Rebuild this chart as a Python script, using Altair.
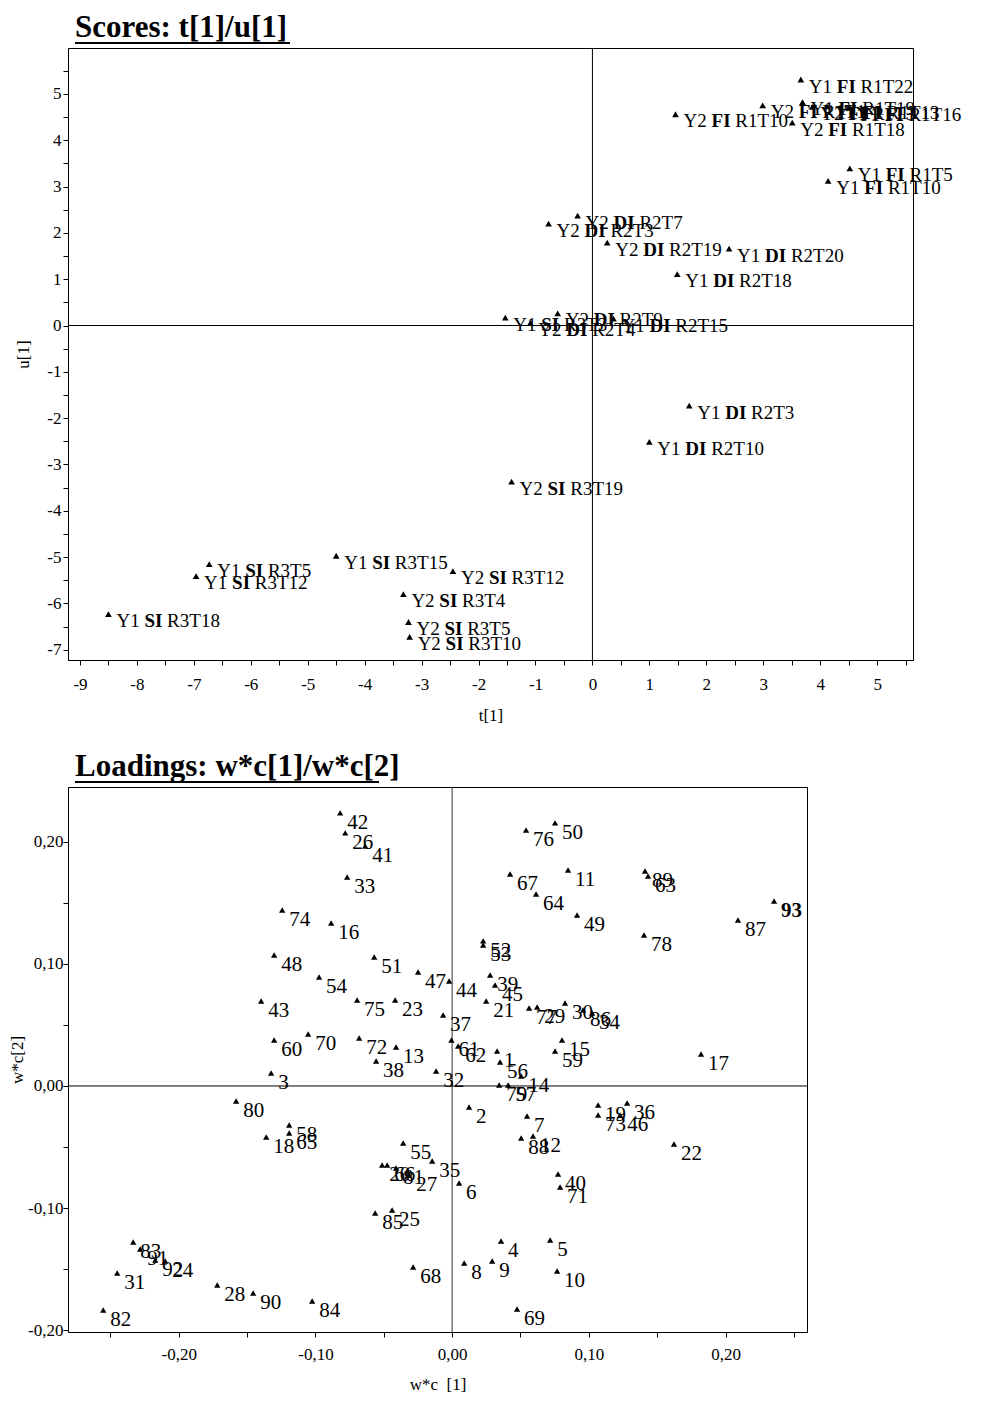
import altair as alt
import pandas as pd

FONT = "Liberation Serif"

# ---------------- Scores: t[1]/u[1] ----------------
score_title = ["Scores: t[1]/u[1]"]
score_year = ["Y1", "Y2", "Y1", "Y2", "Y1", "Y1", "Y2", "Y2", "Y1", "Y1",
              "Y2", "Y2", "Y2", "Y1", "Y1", "Y1", "Y2", "Y2", "Y1", "Y1",
              "Y1", "Y2", "Y1", "Y2", "Y1", "Y1", "Y2", "Y1", "Y2", "Y2"]
score_group = ["FI", "FI", "FI", "FI", "FI", "FI", "FI", "FI", "FI", "FI",
               "DI", "DI", "DI", "DI", "DI", "SI", "DI", "DI", "DI", "DI",
               "DI", "SI", "SI", "SI", "SI", "SI", "SI", "SI", "SI", "SI"]
score_code = ["R1T22", "R1T1", "R1T19", "R1T3", "R1T13", "R1T16", "R1T10", "R1T18", "R1T5", "R1T10",
              "R2T7", "R2T3", "R2T19", "R2T20", "R2T18", "R3T3", "R2T9", "R2T4", "R2T15", "R2T3",
              "R2T10", "R3T19", "R3T15", "R3T12", "R3T5", "R3T12", "R3T4", "R3T18", "R3T5", "R3T10"]
score_t = [3.66, 2.99, 3.69, 3.86, 4.12, 4.50, 1.46, 3.51, 4.52, 4.14,
           -0.26, -0.77, 0.26, 2.40, 1.49, -1.53, -0.61, -1.09, 0.37, 1.70,
           1.00, -1.42, -4.50, -2.45, -6.73, -6.96, -3.32, -8.50, -3.23, -3.21]
score_u = [5.31, 4.75, 4.82, 4.72, 4.73, 4.70, 4.56, 4.38, 3.39, 3.12,
           2.37, 2.20, 1.79, 1.66, 1.11, 0.17, 0.26, 0.06, 0.15, -1.73,
           -2.51, -3.37, -4.97, -5.30, -5.15, -5.41, -5.80, -6.23, -6.40, -6.72]

t_ticks = [-9, -8.5, -8, -7.5, -7, -6.5, -6, -5.5, -5, -4.5, -4, -3.5, -3, -2.5, -2, -1.5,
           -1, -0.5, 0, 0.5, 1, 1.5, 2, 2.5, 3, 3.5, 4, 4.5, 5, 5.5]
u_ticks = [-7, -6.5, -6, -5.5, -5, -4.5, -4, -3.5, -3, -2.5, -2, -1.5, -1, -0.5,
           0, 0.5, 1, 1.5, 2, 2.5, 3, 3.5, 4, 4.5, 5, 5.5]

# ---------------- Loadings: w*c[1]/w*c[2] ----------------
load_title = ["Loadings: w*c[1]/w*c[2]"]
load_id = list(range(1, 94))
load_x = [0.0329, 0.0124, -0.1324, 0.0358, 0.0717, 0.0051, 0.0548, 0.0088, 0.0293, 0.0768,
          0.0848, 0.0592, -0.0410, 0.0505, 0.0804, -0.0885, 0.1821, -0.1360, 0.1068, -0.0512,
          0.0249, 0.1623, -0.0417, -0.2099, -0.0439, -0.0782, -0.0314, -0.1718, 0.0622, 0.0826,
          -0.2450, -0.0117, -0.0768, 0.1024, -0.0146, 0.1280, -0.0066, -0.0556, 0.0278, 0.0775,
          -0.0636, -0.0819, -0.1397, -0.0022, 0.0314, 0.1229, -0.0249, -0.1302, 0.0914, 0.0753,
          -0.0570, 0.0227, 0.0227, -0.0973, -0.0358, 0.0351, 0.0410, -0.1192, 0.0753, -0.1302,
          -0.0005, 0.0044, 0.1433, 0.0614, -0.1192, -0.0475, 0.0424, -0.0285, 0.0475, -0.1053,
          0.0790, -0.0680, 0.1068, -0.1243, -0.0695, 0.0541, 0.0563, 0.1404, 0.0344, -0.1580,
          -0.0410, -0.2552, -0.2333, -0.1024, -0.0563, 0.0958, 0.2091, 0.0505, 0.1411, -0.1455,
          -0.2282, -0.2172, 0.2355]
load_y = [0.0287, -0.0172, 0.0107, -0.1270, -0.1262, -0.0795, -0.0246, -0.1451, -0.1434, -0.1516,
          0.1770, -0.0410, 0.0320, 0.0082, 0.0377, 0.1336, 0.0262, -0.0418, -0.0156, -0.0648,
          0.0697, -0.0475, 0.0705, -0.1434, -0.1016, 0.2074, -0.0730, -0.1631, 0.0648, 0.0680,
          -0.1533, 0.0123, 0.1713, 0.0598, -0.0615, -0.0139, 0.0582, 0.0205, 0.0910, -0.0721,
          0.1967, 0.2238, 0.0697, 0.0861, 0.0828, -0.0238, 0.0934, 0.1074, 0.1402, 0.2156,
          0.1057, 0.1189, 0.1156, 0.0893, -0.0467, 0.0197, 0.0008, -0.0320, 0.0287, 0.0377,
          0.0377, 0.0328, 0.1721, 0.1574, -0.0385, -0.0648, 0.1738, -0.1484, -0.1828, 0.0426,
          -0.0828, 0.0393, -0.0238, 0.1443, 0.0705, 0.2098, 0.0639, 0.1238, 0.0008, -0.0123,
          -0.0672, -0.1836, -0.1279, -0.1762, -0.1041, 0.0623, 0.1361, -0.0426, 0.1762, -0.1697,
          -0.1336, -0.1426, 0.1516]

wc_x_ticks = [-0.25, -0.2, -0.15, -0.1, -0.05, 0, 0.05, 0.1, 0.15, 0.2, 0.25]
wc_y_ticks = [-0.2, -0.15, -0.1, -0.05, 0, 0.05, 0.1, 0.15, 0.2]

# ---------------- common styling ----------------
INT_EXPR = "abs(datum.value - round(datum.value)) < 0.001 ? '' + datum.value : ''"
DEC_EXPR = ("abs(datum.value * 10 - round(datum.value * 10)) < 0.001 ? "
            "(datum.value < -0.0001 ? '-' : '') + replace(format(abs(datum.value), '.2f'), '.', ',') : ''")

axis_common = dict(grid=False, domainColor="black", tickColor="black", labelColor="black",
                   titleColor="black", labelFont=FONT, titleFont=FONT, labelFontSize=17,
                   titleFontSize=17, titleFontWeight="normal", tickSize=5)

TFS = 31  # panel title font size


def panel_title(text_list, underline_end):
    tdf = pd.DataFrame({"ttl": text_list})
    txt = alt.Chart(tdf).mark_text(align="left", baseline="alphabetic", font=FONT, fontSize=TFS,
                                   fontWeight="bold", color="black").encode(
        x=alt.value(7), y=alt.value(-11), text="ttl:N")
    ul = alt.Chart(tdf).mark_rule(color="black", strokeWidth=2).encode(
        x=alt.value(7), x2=alt.value(underline_end), y=alt.value(-5))
    return txt, ul


# ---------------- Scores panel ----------------
scores = pd.DataFrame({"year": score_year, "grp": score_group, "code": score_code,
                       "t": score_t, "u": score_u})

xs1 = alt.Scale(domain=[-9.21, 5.63], nice=False, zero=False)
ys1 = alt.Scale(domain=[-7.22, 5.99], nice=False, zero=False)
X1 = alt.X("t:Q", scale=xs1, axis=alt.Axis(values=t_ticks, labelExpr=INT_EXPR, title="t[1]",
                                          labelPadding=11, titlePadding=15, **axis_common))
Y1 = alt.Y("u:Q", scale=ys1, axis=alt.Axis(values=u_ticks, labelExpr=INT_EXPR, title="u[1]",
                                          labelPadding=2, titlePadding=14, **axis_common))

base1 = alt.Chart(scores).encode(x=X1, y=Y1)
pts1 = base1.mark_point(shape="triangle-up", filled=True, size=45, color="black", opacity=1)
SFS = 19
txt_kw = dict(align="left", baseline="middle", dy=7, font=FONT, fontSize=SFS, color="black")
pre1 = base1.mark_text(dx=8, **txt_kw).encode(text="year:N")
mid1 = base1.mark_text(dx=8 + 1.472 * SFS, fontWeight="bold", **txt_kw).encode(text="grp:N")
mid_w = {"FI": 1.0, "DI": 1.111, "SI": 0.945}
suf_layers = []
for g, w in mid_w.items():
    suf_layers.append(
        base1.transform_filter(alt.datum.grp == g)
        .mark_text(dx=8 + (1.472 + w + 0.25) * SFS, **txt_kw)
        .encode(text="code:N")
    )

zero_df = pd.DataFrame({"t": [0.0], "u": [0.0]})
zv1 = alt.Chart(zero_df).mark_rule(color="black", strokeWidth=1).encode(x=X1)
zh1 = alt.Chart(zero_df).mark_rule(color="black", strokeWidth=1).encode(y=Y1)
ttl1, ul1 = panel_title(score_title, 222)

top = alt.layer(zv1, zh1, ttl1, ul1, pts1, pre1, mid1, *suf_layers).properties(
    width=845, height=612)

# ---------------- Loadings panel ----------------
loads = pd.DataFrame({"id": load_id, "wx": load_x, "wy": load_y})
xs2 = alt.Scale(domain=[-0.281, 0.2596], nice=False, zero=False)
ys2 = alt.Scale(domain=[-0.2016, 0.245], nice=False, zero=False)
X2 = alt.X("wx:Q", scale=xs2, axis=alt.Axis(values=wc_x_ticks, labelExpr=DEC_EXPR,
                                           title="w*c\u00a0\u00a0[1]",
                                           labelPadding=9, titlePadding=14, **axis_common))
Y2 = alt.Y("wy:Q", scale=ys2, axis=alt.Axis(values=wc_y_ticks, labelExpr=DEC_EXPR, title="w*c[2]",
                                           labelPadding=0, titlePadding=1, **axis_common))
base2 = alt.Chart(loads).encode(x=X2, y=Y2)
pts2 = base2.mark_point(shape="triangle-up", filled=True, size=40, color="black", opacity=1)
lab_kw = dict(align="left", baseline="middle", dx=7, dy=10, font=FONT, fontSize=21, color="black")
lab2 = base2.transform_filter(alt.datum.id != 93).mark_text(**lab_kw).encode(text="id:N")
lab2b = base2.transform_filter(alt.datum.id == 93).mark_text(fontWeight="bold", **lab_kw).encode(text="id:N")

zero_df2 = pd.DataFrame({"wx": [0.0], "wy": [0.0]})
zv2 = alt.Chart(zero_df2).mark_rule(color="#333333", strokeWidth=1).encode(x=X2)
zh2 = alt.Chart(zero_df2).mark_rule(color="black", strokeWidth=1).encode(y=Y2)
ttl2, ul2 = panel_title(load_title, 311)

bottom = alt.layer(zv2, zh2, ttl2, ul2, pts2, lab2, lab2b).properties(
    width=739, height=545)

chart = alt.vconcat(top, bottom, spacing=26).properties(
    padding={"left": 0, "top": 3, "right": 2, "bottom": 0},
    background="white",
).configure_view(stroke="black", strokeWidth=1)

chart.save("out.html", embed_options={"renderer": "svg", "actions": False})
